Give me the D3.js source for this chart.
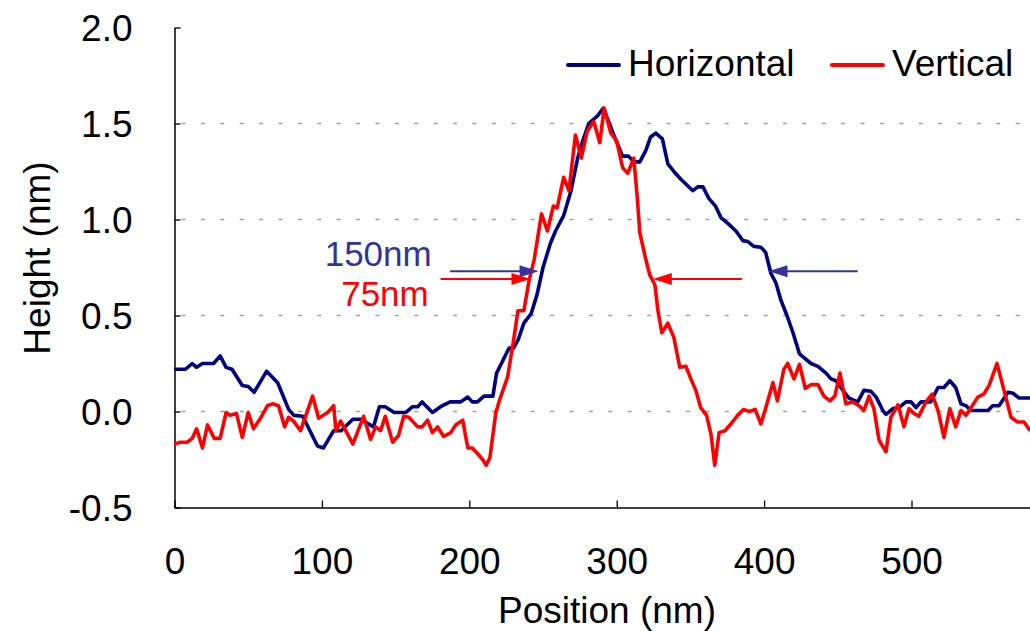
<!DOCTYPE html>
<html><head><meta charset="utf-8">
<script src="https://cdn.jsdelivr.net/npm/d3@7"></script>
<style>html,body{margin:0;padding:0;background:#fff;}svg{display:block;}</style>
</head><body>
<svg id="chart" width="1030" height="631"></svg>
<script>
// ---- data ----
const horizX = [0,7.5,12,15,19,26.5,31,35,39,46,50,54,62.5,70,77.5,81,87,97,101,108,113,121,126,135,139,143,149,157,161.5,165,168,175,180.5,187,194,199,202,205.5,210,216,218.5,227,230,233.5,237,242,246,250,255,258.5,264,269,273.5,277,281,287,291,298,304,308,311.6,315.7,319.8,323,326.5,331,334.7,338.8,343.5,347.6,351.7,355,358.5,362.5,367,370.7,375.4,380.9,385.6,389,393,397.8,401,404.6,408,411.4,415.5,419.6,424,431.8,436.5,442,445.4,448.7,453.5,457.6,463.6,467.7,472.5,476,480.6,482.7,487.4,491.5,496.3,499.7,503,506.4,513,518,522,526,530,533.6,537,540.4,552,555,559.4,565.5,568.9,573,585];
const horizY = [0.22,0.22,0.25,0.23,0.25,0.25,0.29,0.23,0.22,0.135,0.13,0.10,0.21,0.15,0.01,-0.02,-0.025,-0.18,-0.19,-0.10,-0.10,-0.04,-0.04,-0.08,0.025,0.025,-0.005,-0.005,0.025,0.025,0.05,-0.005,0.025,0.05,0.05,0.075,0.05,0.05,0.08,0.08,0.20,0.33,0.33,0.38,0.46,0.51,0.61,0.75,0.875,0.94,1.02,1.15,1.32,1.41,1.50,1.54,1.58,1.44,1.33,1.33,1.30,1.30,1.36,1.43,1.45,1.42,1.29,1.25,1.21,1.18,1.15,1.17,1.17,1.11,1.07,1.01,0.98,0.94,0.89,0.885,0.86,0.855,0.83,0.72,0.67,0.58,0.50,0.41,0.30,0.25,0.235,0.20,0.17,0.16,0.11,0.07,0.05,0.11,0.105,0.075,0.005,-0.015,0.015,0.02,0.05,0.05,0.02,0.05,0.05,0.125,0.125,0.16,0.125,0.04,0.03,0.005,0.005,0.03,0.03,0.10,0.095,0.07,0.07];
const vertX = [0,4,8.8,12,15,19,22.4,27,31,35,37.6,42,46,50,53.6,58.4,63,66.5,70.6,74.7,77.4,80.8,85.5,93.7,97.8,103.9,108,109.5,112.7,121,128.3,133,136.5,139.8,143,148,152,155.5,159,165,168,171.7,175,178.5,182.6,187.4,190.8,195.5,199,202,205.7,209,211.5,214,218,221,226,230,233,237,240.5,244,249,253,257,259.6,264,267.6,272,276,280,284.5,288.5,291.5,296,300,304,307.5,311.6,314,315.7,319.8,322.5,325.9,328,330.6,334.7,338.8,342.8,347,350.3,353.7,357,361,364,366.5,369.5,373.5,378,382,386,390,394,397.8,401,406,409,413.4,416,420.3,424,428,431.8,436.5,440.6,444.7,448,451.5,455.5,460,464.4,467.7,471.2,474.5,478,482.7,486,490.8,494.9,498.3,501.7,505,509.8,514,518,522,526,530,533.6,537,540.4,545,549,552.6,558,562.8,567.5,572,576.4,580,585];
const vertY = [-0.17,-0.16,-0.16,-0.14,-0.09,-0.19,-0.07,-0.14,-0.14,-0.005,-0.02,-0.01,-0.135,-0.005,-0.09,-0.035,0.03,0.04,0.03,-0.08,-0.03,-0.05,-0.10,0.08,-0.035,-0.005,0.03,-0.10,-0.05,-0.17,-0.025,-0.145,-0.08,-0.10,-0.025,-0.16,-0.125,-0.025,-0.03,-0.08,-0.08,-0.045,-0.11,-0.08,-0.13,-0.11,-0.07,-0.045,-0.19,-0.19,-0.22,-0.25,-0.28,-0.24,-0.005,0.07,0.18,0.37,0.525,0.525,0.68,0.79,1.03,0.94,1.07,1.06,1.22,1.15,1.44,1.32,1.46,1.51,1.40,1.58,1.45,1.41,1.27,1.24,1.32,1.11,0.93,0.79,0.71,0.66,0.525,0.41,0.46,0.385,0.23,0.235,0.17,0.11,0.02,-0.02,-0.12,-0.28,-0.11,-0.10,-0.06,-0.02,0.01,0.0,0.01,-0.065,0.015,0.15,0.055,0.22,0.25,0.17,0.245,0.12,0.14,0.14,0.08,0.055,0.08,0.20,0.04,0.05,0.03,0.005,0.08,0.015,-0.15,-0.21,-0.03,0.035,-0.08,0.015,-0.01,-0.025,0.05,0.09,0.005,-0.135,0.015,-0.08,0.005,-0.02,0.02,0.075,0.09,0.135,0.25,0.11,-0.03,-0.055,-0.055,-0.095,-0.10];

const xTicks = [0,100,200,300,400,500];
const yTicks = [-0.5,0.0,0.5,1.0,1.5,2.0];
const gridValues = [0.0,0.5,1.0,1.5];
const seriesNames = ["Horizontal","Vertical"];
const seriesColors = ["#000080","#ff0000"];

// annotations
const annotLabels = ["150nm","75nm"];
const annotLabelPos = [[174.5,0.76],[172.5,0.55]];
const annotArrowY = [0.73,0.69];
const annotLeftArrow = [[187,247],[180.5,241.5]];
const annotRightArrow = [[463.5,403],[385,324.5]];
const annotColors = ["#333399","#ff0000"];

// ---- layout ----
const svg = d3.select("#chart");
const font = "'Liberation Sans', Arial, sans-serif";
const x = d3.scaleLinear().domain([0,600]).range([174.5, 174.5 + 6*147.4]);
const y = d3.scaleLinear().domain([-0.5,2.0]).range([507.5, 27.5]);

// gridlines
svg.append("g").selectAll("line").data(gridValues).join("line")
  .attr("x1", x(0)+2).attr("x2", x(600))
  .attr("y1", d=>y(d)).attr("y2", d=>y(d))
  .attr("stroke","#a0a0a0").attr("stroke-width",1.5)
  .attr("stroke-dasharray","4,15.4").attr("stroke-dashoffset",-5);

// axes
const yAxis = d3.axisLeft(y).tickValues(yTicks).tickSizeInner(-6).tickSizeOuter(0).tickPadding(42)
  .tickFormat(d => d.toFixed(1));
const gy = svg.append("g").attr("transform",`translate(${x(0)},0)`).call(yAxis);
gy.select(".domain").attr("stroke","#000").attr("stroke-width",1.5);
gy.selectAll(".tick line").attr("stroke","#000").attr("stroke-width",1.3);
gy.selectAll(".tick text").attr("font-family",font).attr("font-size",37).attr("fill","#000").attr("dy","0.36em");

const xAxis = d3.axisBottom(x).tickValues(xTicks.concat([600])).tickSizeInner(-7).tickSizeOuter(0).tickPadding(40)
  .tickFormat(d => xTicks.includes(d) ? String(d) : "");
const gx = svg.append("g").attr("transform",`translate(0,${y(-0.5)})`).call(xAxis);
gx.select(".domain").attr("stroke","#000").attr("stroke-width",1.5);
gx.selectAll(".tick line").attr("stroke","#000").attr("stroke-width",1.3);
gx.selectAll(".tick text").attr("font-family",font).attr("font-size",37).attr("fill","#000").attr("dy","0.71em");

// axis titles
svg.append("text").attr("x",607).attr("y",623).attr("text-anchor","middle")
  .attr("font-family",font).attr("font-size",37).text("Position (nm)");
svg.append("text").attr("transform","translate(50,258) rotate(-90)").attr("text-anchor","middle")
  .attr("font-family",font).attr("font-size",37).text("Height (nm)");

// lines
const line = d3.line().x(d=>x(d[0])).y(d=>y(d[1]));
const hData = horizX.map((v,i)=>[v,horizY[i]]);
const vData = vertX.map((v,i)=>[v,vertY[i]]);
svg.append("path").datum(hData).attr("d",line).attr("fill","none")
  .attr("stroke",seriesColors[0]).attr("stroke-width",3.6).attr("stroke-linejoin","round");
svg.append("path").datum(vData).attr("d",line).attr("fill","none")
  .attr("stroke",seriesColors[1]).attr("stroke-width",3.6).attr("stroke-linejoin","round");

// annotations
function arrow(x1,x2,yy,color){
  const dir = Math.sign(x2-x1);
  const px1 = x(x1), px2 = x(x2), py = y(yy);
  svg.append("line").attr("x1",px1).attr("x2",px2 - dir*17).attr("y1",py).attr("y2",py)
    .attr("stroke",color).attr("stroke-width",2);
  svg.append("path")
    .attr("d",`M${px2},${py} L${px2-dir*19},${py-6} L${px2-dir*19},${py+6} Z`)
    .attr("fill",color);
}
annotLabels.forEach((lab,i)=>{
  svg.append("text").attr("x",x(annotLabelPos[i][0])).attr("y",y(annotLabelPos[i][1]))
    .attr("text-anchor","end").attr("font-family",font).attr("font-size",35)
    .attr("fill",annotColors[i]).text(lab);
  arrow(annotLeftArrow[i][0],annotLeftArrow[i][1],annotArrowY[i],annotColors[i]);
  arrow(annotRightArrow[i][0],annotRightArrow[i][1],annotArrowY[i],annotColors[i]);
});

// legend
const legendX = [568, 832];
seriesNames.forEach((n,i)=>{
  svg.append("line").attr("x1",legendX[i]).attr("x2",legendX[i]+51).attr("y1",65).attr("y2",65)
    .attr("stroke",seriesColors[i]).attr("stroke-width",4).attr("stroke-linecap","round");
  svg.append("text").attr("x",legendX[i]+60).attr("y",76).attr("font-family",font)
    .attr("font-size",37).attr("fill","#000").text(n);
});
</script>
</body></html>
